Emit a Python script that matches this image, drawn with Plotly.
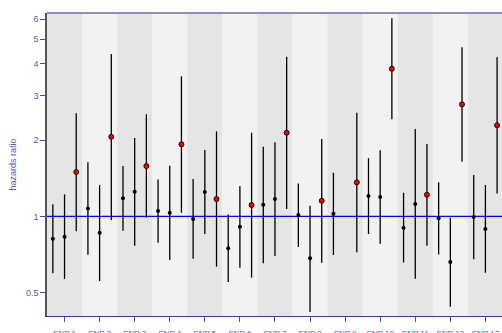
import plotly.graph_objects as go

snps = [f"SNP {i}" for i in range(1, 14)]

# three estimates per SNP (third one highlighted in red)
hr1 = [0.816, 1.075, 1.178, 1.049, 0.976, 0.748, 1.111, 1.012, 1.024, 1.202, 0.902, 0.982, 0.994]
lo1 = [0.596, 0.706, 0.877, 0.787, 0.680, 0.551, 0.653, 0.757, 0.704, 0.852, 0.658, 0.708, 0.677]
hi1 = [1.115, 1.633, 1.579, 1.399, 1.403, 1.018, 1.882, 1.349, 1.486, 1.696, 1.239, 1.362, 1.455]

hr2 = [0.831, 0.862, 1.251, 1.033, 1.247, 0.910, 1.170, 0.683, None, 1.192, 1.118, 0.660, 0.891]
lo2 = [0.566, 0.556, 0.766, 0.673, 0.852, 0.627, 0.697, 0.420, None, 0.780, 0.567, 0.440, 0.599]
hi2 = [1.221, 1.329, 2.037, 1.584, 1.826, 1.317, 1.958, 1.101, None, 1.821, 2.210, 0.987, 1.329]

hr3 = [1.496, 2.061, 1.579, 1.923, 1.170, 1.108, 2.137, 1.152, 1.362, 3.821, 1.217, 2.765, 2.286]
lo3 = [0.873, 0.967, 0.987, 1.033, 0.633, 0.573, 1.068, 0.656, 0.721, 2.414, 0.766, 1.642, 1.232]
hi3 = [2.549, 4.368, 2.526, 3.566, 2.164, 2.137, 4.262, 2.018, 2.563, 6.040, 1.929, 4.642, 4.250]

ytick_vals = [0.5, 1, 2, 3, 4, 5, 6]
ytick_text = ["0.5", "1", "2", "3", "4", "5", "6"]

axis_col = "#5a5aa6"
font_fam = "Liberation Sans, Arial, sans-serif"

fig = go.Figure()

# alternating background bands
shapes = []
for i in range(len(snps)):
    shapes.append(dict(type="rect", xref="x", yref="paper", x0=3 * i - 0.5, x1=3 * i + 2.5,
                       y0=0, y1=1, fillcolor="#e5e5e5" if i % 2 == 0 else "#f2f2f2",
                       line=dict(width=0), layer="below"))
# reference line at 1
shapes.append(dict(type="line", xref="paper", yref="y", x0=0, x1=1, y0=1, y1=1,
                   line=dict(color="#0000ff", width=1.3), layer="below"))
# top border
shapes.append(dict(type="line", xref="paper", yref="paper", x0=0, x1=1, y0=1, y1=1,
                   line=dict(color="#6d6da8", width=1.3)))


def add_series(offset, hr, lo, hi, red):
    xs, ys, up, dn = [], [], [], []
    for i, (h, l, u) in enumerate(zip(hr, lo, hi)):
        if h is None:
            continue
        xs.append(3 * i + offset)
        ys.append(h)
        up.append(u - h)
        dn.append(h - l)
    fig.add_trace(go.Scatter(
        x=xs, y=ys, mode="markers",
        marker=dict(size=5 if red else 4, color="#ee0000" if red else "black",
                    line=dict(color="black", width=0.9 if red else 0)),
        error_y=dict(type="data", array=up, arrayminus=dn, symmetric=False,
                     color="black", thickness=1.3, width=0),
        showlegend=False, hoverinfo="skip"))


add_series(0, hr1, lo1, hi1, False)
add_series(1, hr2, lo2, hi2, False)
add_series(2, hr3, lo3, hi3, True)

fig.update_layout(
    width=502, height=333,
    margin=dict(l=47, r=0, t=13, b=17),
    paper_bgcolor="white", plot_bgcolor="#f2f2f2",
    shapes=shapes,
    font=dict(family=font_fam, size=9, color=axis_col),
    xaxis=dict(range=[-0.5, 38.42], tickvals=[3 * i + 1 for i in range(len(snps))],
               ticktext=snps, showgrid=False, zeroline=False,
               ticks="outside", ticklen=5, tickcolor="#4a4aa8", tickwidth=1,
               ticklabelstandoff=4, automargin=False,
               showline=True, linecolor="#3a3a90", linewidth=1.3,
               tickfont=dict(size=8, color=axis_col)),
    yaxis=dict(type="log", range=[-0.393, 0.802], tickvals=ytick_vals, ticktext=ytick_text,
               showgrid=False, zeroline=False, ticks="outside", ticklen=5,
               tickcolor="#4a4aa8", tickwidth=1, automargin=False,
               showline=True, linecolor="#555555", linewidth=1.5,
               tickfont=dict(size=9, color=axis_col),
               title=dict(text="hazards ratio", font=dict(size=9, color=axis_col), standoff=8)),
)

fig.write_html("out.html")
